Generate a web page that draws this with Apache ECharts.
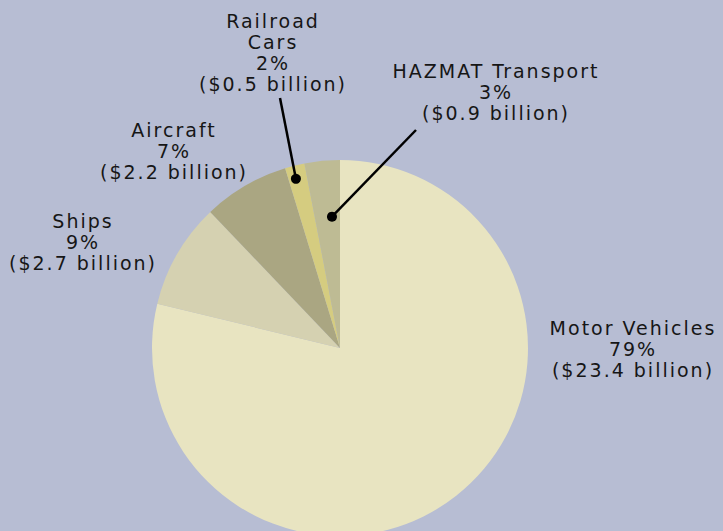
<!DOCTYPE html>
<html>
<head>
<meta charset="utf-8">
<script src="https://cdn.jsdelivr.net/npm/echarts@6/dist/echarts.min.js"></script>
<style>
  html, body { margin: 0; padding: 0; background: #b7bdd3; }
  #main { width: 723px; height: 531px; }
  #main text { letter-spacing: 2px; }
</style>
</head>
<body>
<div id="main"></div>
<script>
// slices, clockwise from 12 o'clock
const categories = ['Motor Vehicles', 'Ships', 'Aircraft', 'Railroad\nCars', 'HAZMAT Transport'];
const values = [23.4, 2.7, 2.2, 0.5, 0.9];
const colors = ['#e8e4c1', '#d5d1b1', '#aaa682', '#d5cc80', '#bebb94'];

// label layout (pixel centres) and leader lines
const center = [340, 348];
const radius = 188;
const labelPos = [[633, 349], [83, 242], [174, 151], [273, 52], [496, 92]];
const leaderStart = [null, null, null, [280, 98], [416, 130]];
// where the dot sits inside its slice: share of the sweep, share of the radius
const dotSweep = [null, null, null, 0.39, 0.68];
const dotDepth = [null, null, null, 0.93, 0.70];

const total = values.reduce((a, b) => a + b, 0);
function dotPoint (i) {
  let before = 0
  for (let k = 0; k < i; k++) before += values[k]
  const a = (before + values[i] * dotSweep[i]) / total * Math.PI * 2
  const r = radius * dotDepth[i]
  return [center[0] + r * Math.sin(a), center[1] - r * Math.cos(a)]
}

const data = values.map((v, i) => ({
  name: categories[i],
  value: v,
  itemStyle: { color: colors[i] }
}))

// leader lines and dots, drawn over the slices
const marks = []
leaderStart.forEach((s, i) => {
  if (!s) return
  const p = dotPoint(i)
  marks.push({
    type: 'line',
    shape: { x1: s[0], y1: s[1], x2: p[0], y2: p[1] },
    style: { stroke: '#000', lineWidth: 2.5 },
    z: 100
  })
  marks.push({
    type: 'circle',
    shape: { cx: p[0], cy: p[1], r: 5 },
    style: { fill: '#000' },
    z: 101
  })
})

const chart = echarts.init(document.getElementById('main'), null, { renderer: 'svg' })
chart.setOption({
  backgroundColor: '#b7bdd3',
  animation: false,
  graphic: marks,
  series: [{
    type: 'pie',
    center: center,
    radius: radius,
    startAngle: 90,
    clockwise: true,
    silent: true,
    percentPrecision: 0,
    data: data,
    label: {
      show: true,
      position: 'outside',
      formatter: p => p.name + '\n' + p.percent + '%\n($' + p.value + ' billion)',
      fontFamily: 'DejaVu Sans',
      fontSize: 19,
      lineHeight: 21,
      color: '#161616',
      align: 'center',
      overflow: 'none'
    },
    labelLine: { show: false },
    labelLayout: params => {
      const i = params.dataIndex
      return {
        x: labelPos[i][0],
        y: labelPos[i][1],
        align: 'center',
        verticalAlign: 'middle'
      }
    }
  }]
})
</script>
</body>
</html>
